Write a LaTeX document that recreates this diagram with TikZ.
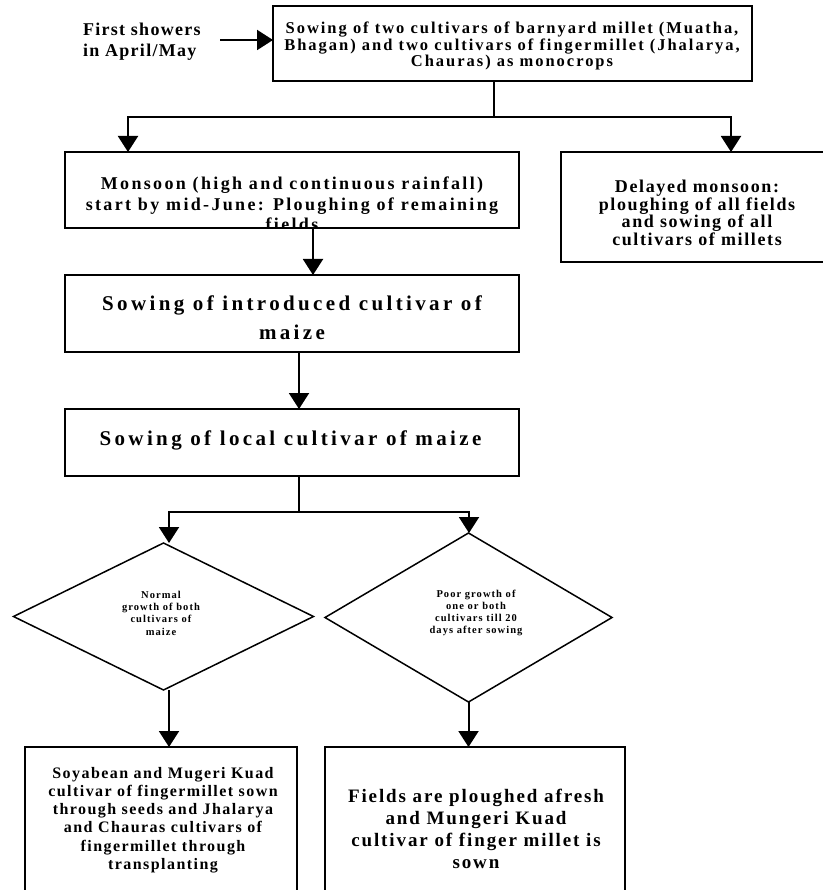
\documentclass[tikz,border=0pt]{standalone}
\usepackage{fontspec}
\setmainfont{Liberation Serif}
\newfontfamily\lsSeven{Liberation Serif}[LetterSpace=7]
\newfontfamily\lsNine{Liberation Serif}[LetterSpace=9]
\newfontfamily\lsTen{Liberation Serif}[LetterSpace=10]
\newfontfamily\lsTwelve{Liberation Serif}[LetterSpace=12]
\newfontfamily\lsThirteen{Liberation Serif}[LetterSpace=13]
\newfontfamily\lsSixteen{Liberation Serif}[LetterSpace=16]
\usetikzlibrary{arrows.meta,shapes.geometric}
\begin{document}
\begin{tikzpicture}[x=1pt,y=-1pt,
  box/.style={draw, line width=2.2pt, inner sep=0pt, outer sep=0pt, anchor=north west, rectangle},
  dia/.style={draw, diamond, line width=1.5pt, inner sep=0pt, outer sep=0pt},
  ln/.style={line width=2pt},
  arr/.style={line width=2pt, -{Triangle[width=20pt,length=16pt]}},
  tx/.style={inner sep=0pt, align=center},
  fshow/.style={font=\lsSeven\bfseries\fontsize{18}{21}\selectfont},
  ftop/.style={font=\lsTwelve\bfseries\fontsize{16.5}{16.5}\selectfont},
  fmon/.style={font=\lsThirteen\bfseries\fontsize{18}{20.5}\selectfont},
  fdel/.style={font=\lsNine\bfseries\fontsize{18}{17.7}\selectfont},
  fbig/.style={font=\lsSixteen\bfseries\fontsize{21}{29}\selectfont},
  fdia/.style={font=\lsTen\bfseries\fontsize{10.5}{12.3}\selectfont},
  fbl/.style={font=\lsNine\bfseries\fontsize{16}{18.2}\selectfont},
  fbr/.style={font=\lsTen\bfseries\fontsize{19}{22}\selectfont}
]
\useasboundingbox (0,0) rectangle (822,890);

% boxes
\node[box, minimum width=479pt, minimum height=75pt] (top) at (273,6) {};
\node[box, minimum width=454pt, minimum height=76pt] (mon) at (65,152) {};
\node[box, minimum width=265pt, minimum height=110pt] (del) at (561,152) {};
\node[box, minimum width=454pt, minimum height=77pt] (intro) at (65,275) {};
\node[box, minimum width=454pt, minimum height=67pt] (local) at (65,409) {};
\node[box, minimum width=272pt, minimum height=153pt] (bl) at (25,747) {};
\node[box, minimum width=300pt, minimum height=153pt] (br) at (325,747) {};
\node[dia, minimum width=300pt, minimum height=147pt] (dl) at (163.5,616.5) {};
\node[dia, minimum width=287pt, minimum height=169pt] (dr) at (468.5,617.5) {};

% texts
\node[tx, fshow, align=left, anchor=west] (fs) at (83,42) {First showers\\in April/May};
\node[tx, ftop] (ttop) at (512,46) {Sowing of two cultivars of barnyard millet (Muatha,\\Bhagan) and two cultivars of fingermillet (Jhalarya,\\Chauras) as monocrops};
\begin{scope}
\clip (mon.north west) rectangle ([yshift=1.1pt]mon.south east);
\node[tx, fmon] (tmon) at (292,204) {Monsoon (high and continuous rainfall)\\start by mid-June: Ploughing of remaining\\fields};
\end{scope}
\node[tx, fdel] (tdel) at (697,213) {Delayed monsoon:\\ploughing of all fields\\and sowing of all\\cultivars of millets};
\node[tx, fbig] (tintro) at (292,317.5) {Sowing of introduced cultivar of\\maize};
\node[tx, fbig] (tlocal) at (290.5,440) {Sowing of local cultivar of maize};
\node[tx, fdia] (tdl) at (161,613) {Normal\\growth of both\\cultivars of\\maize};
\node[tx, fdia] (tdr) at (476,613) {Poor growth of\\one or both\\cultivars till 20\\days after sowing};
\node[tx, fbl] (tbl) at (163,820) {Soyabean and Mugeri Kuad\\cultivar of fingermillet sown\\through seeds and Jhalarya\\and Chauras cultivars of\\fingermillet through\\transplanting};
\node[tx, fbr] (tbr) at (476,829) {Fields are ploughed afresh\\and Mungeri Kuad\\cultivar of finger millet is\\sown};

% connectors
\coordinate (fa) at (220,40);
\draw[arr] (fa) -- (fa -| top.west);

\coordinate (ja) at (494,117);
\coordinate (jl) at (128,117);
\coordinate (jr) at (731,117);
\draw[ln] (top.south -| ja) -- (ja);
\draw[arr] (ja) -- (jl) -- (jl |- mon.north);
\draw[arr] (ja) -- (jr) -- (jr |- del.north);

\coordinate (xa) at (313,0);
\draw[arr] (mon.south -| xa) -- (intro.north -| xa);
\coordinate (xb) at (299,0);
\draw[arr] (intro.south -| xb) -- (local.north -| xb);

\coordinate (jb) at (299,512);
\coordinate (jbl) at (169,512);
\coordinate (jbr) at (469,512);
\draw[ln] (local.south -| jb) -- (jb);
\draw[arr] (jb) -- (jbl) -- (jbl |- dl.north);
\draw[arr] (jb) -- (jbr) -- (jbr |- dr.north);

\coordinate (xc) at (169,0);
\draw[arr] (dl.south -| xc) -- (bl.north -| xc);
\draw[arr] (dr.south) -- (br.north -| dr.south);
\end{tikzpicture}
\end{document}
